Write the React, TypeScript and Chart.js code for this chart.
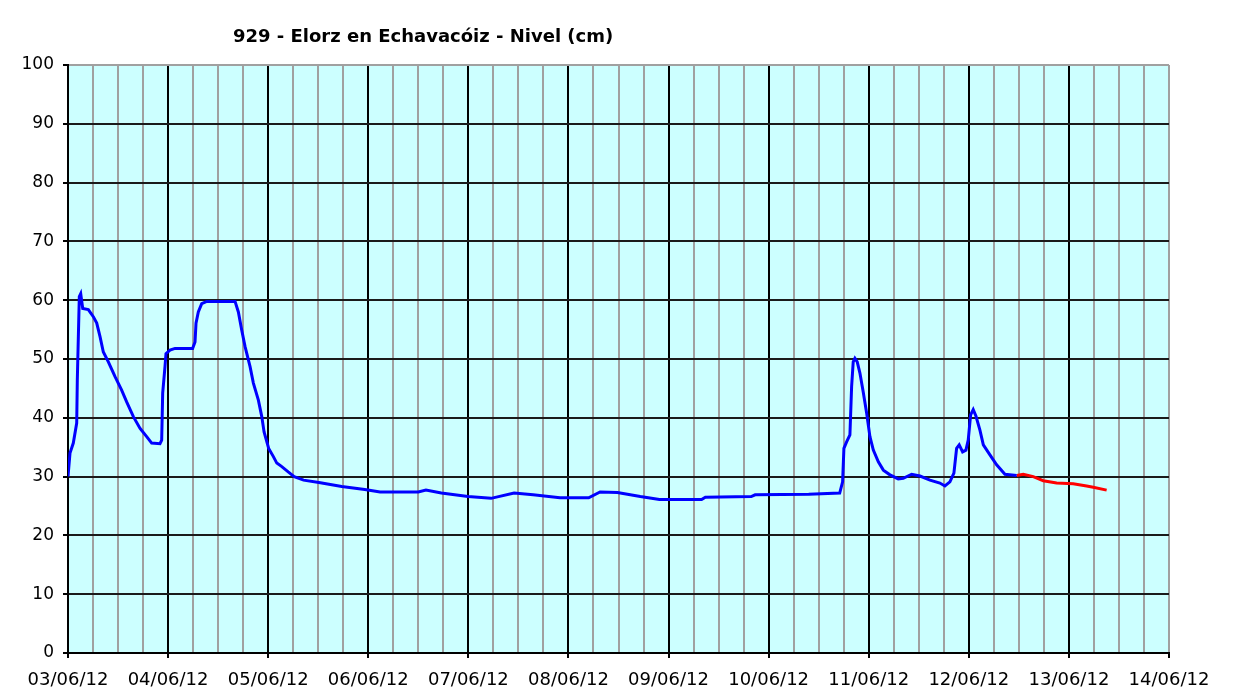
import React, { useEffect, useRef } from 'react';
import { Chart, registerables } from 'chart.js';

Chart.register(...registerables);

const chartTitle = '929 - Elorz en Echavacóiz - Nivel (cm)';
const dayLabels = ['03/06/12', '04/06/12', '05/06/12', '06/06/12', '07/06/12', '08/06/12', '09/06/12', '10/06/12', '11/06/12', '12/06/12', '13/06/12', '14/06/12'];
const yMin = 0;
const yMax = 100;
const yStep = 10;

// Observed level: days since 03/06/12 00:00, level in cm
const observedDays = [
  0.0, 0.02, 0.053, 0.087, 0.093, 0.113, 0.127, 0.147, 0.203, 0.253, 0.287, 0.32, 0.353, 0.403, 0.47, 0.536, 0.586, 0.653, 0.72, 0.786, 0.836, 0.919, 0.936, 0.946, 0.969, 0.979,
  1.019, 1.069, 1.245, 1.269, 1.279, 1.302, 1.336, 1.386, 1.669, 1.702, 1.736, 1.769, 1.819, 1.852, 1.902, 1.936, 1.959,
  2.005, 2.052, 2.086, 2.136, 2.2, 2.26, 2.354, 2.507, 2.735, 2.965,
  3.118, 3.5, 3.576, 3.73, 3.997, 4.227, 4.457, 4.647, 4.915, 5.202, 5.316, 5.489, 5.718, 5.909, 6.33, 6.368, 6.826, 6.865, 7.4, 7.71,
  7.739, 7.752, 7.779, 7.812, 7.829, 7.845, 7.862, 7.885, 7.912, 7.945, 7.979, 8.012, 8.046, 8.096, 8.146, 8.212, 8.295, 8.345, 8.429, 8.512, 8.612, 8.711, 8.761, 8.811, 8.851, 8.878, 8.904, 8.938, 8.971, 8.994,
  9.018, 9.044, 9.071, 9.111, 9.145, 9.211, 9.278, 9.361, 9.478,
];
const observedLevel = [
  30.0, 34.0, 35.7, 39.1, 46.4, 60.6, 61.1, 58.6, 58.4, 57.2, 56.1, 53.8, 51.2, 49.5, 47.0, 44.7, 42.7, 40.2, 38.2, 36.8, 35.7, 35.6, 36.2, 44.2, 48.7, 50.9,
  51.5, 51.8, 51.8, 52.9, 56.1, 58.0, 59.4, 59.8, 59.8, 58.0, 54.9, 52.1, 48.7, 45.9, 43.0, 40.2, 37.6,
  34.8, 33.4, 32.3, 31.7, 30.8, 30.0, 29.4, 29.0, 28.3, 27.8,
  27.4, 27.4, 27.7, 27.2, 26.6, 26.3, 27.2, 26.9, 26.4, 26.4, 27.4, 27.3, 26.6, 26.1, 26.1, 26.5, 26.6, 26.9, 27.0, 27.2,
  29.1, 34.8, 35.9, 37.1, 45.3, 49.5, 50.1, 49.5, 47.6, 44.4, 40.8, 36.8, 34.5, 32.5, 31.1, 30.3, 29.6, 29.7, 30.4, 30.1, 29.4, 28.9, 28.4, 29.1, 30.6, 34.8, 35.4, 34.2, 34.5, 36.2,
  40.5, 41.4, 40.3, 37.9, 35.4, 33.7, 32.0, 30.4, 30.2,
];

// Forecast level
const forecastDays = [9.478, 9.544, 9.644, 9.744, 9.877, 10.043, 10.177, 10.243, 10.377];
const forecastLevel = [30.2, 30.4, 30.0, 29.3, 28.9, 28.8, 28.4, 28.2, 27.7];

const W = 1251;
const H = 688;

const isWholeDay = (v: number) => Math.abs(v - Math.round(v)) < 1e-6;

export default function App() {
  const ref = useRef<HTMLCanvasElement | null>(null);

  useEffect(() => {
    const canvas = ref.current;
    if (!canvas) return;

    const bgPlugin = {
      id: 'plotBg',
      beforeDraw(chart: any) {
        const { ctx, chartArea } = chart;
        ctx.save();
        ctx.fillStyle = '#CCFFFF';
        ctx.fillRect(chartArea.left, chartArea.top, chartArea.right - chartArea.left, chartArea.bottom - chartArea.top);
        ctx.restore();
      },
    };

    const titlePlugin = {
      id: 'offsetTitle',
      afterDraw(chart: any) {
        const { ctx, chartArea } = chart;
        ctx.save();
        ctx.font = 'bold 18px "DejaVu Sans"';
        ctx.fillStyle = '#000000';
        ctx.textAlign = 'center';
        ctx.textBaseline = 'alphabetic';
        const cx = chartArea.left + (chartArea.right - chartArea.left) * 0.3225;
        ctx.fillText(chartTitle, cx, chartArea.top - 23);
        ctx.restore();
      },
    };

    const chart = new Chart(canvas, {
      type: 'line',
      data: {
        datasets: [
          {
            label: 'Nivel',
            data: observedDays.map((d, i) => ({ x: d, y: observedLevel[i] })),
            borderColor: '#0000FF',
            borderWidth: 3,
            pointRadius: 0,
            tension: 0,
            fill: false,
          },
          {
            label: 'Previsión',
            data: forecastDays.map((d, i) => ({ x: d, y: forecastLevel[i] })),
            borderColor: '#FF0000',
            borderWidth: 3,
            pointRadius: 0,
            tension: 0,
            fill: false,
          },
        ],
      },
      options: {
        animation: false,
        responsive: false,
        devicePixelRatio: 1,
        layout: { padding: { left: 0, right: 82, top: 65, bottom: 0 } },
        plugins: {
          legend: { display: false },
          title: { display: false },
          tooltip: { enabled: false },
        },
        scales: {
          x: {
            type: 'linear',
            min: 0,
            max: dayLabels.length - 1,
            afterFit(scale: any) {
              scale.height = 35;
            },
            border: { display: true, color: '#000000', width: 2 },
            grid: {
              lineWidth: 2,
              tickLength: 5,
              color: (c: any) => {
                const v = c.tick ? c.tick.value : 0;
                if (v === dayLabels.length - 1) return '#A0A0A0';
                return isWholeDay(v) ? '#000000' : '#A0A0A0';
              },
              tickColor: (c: any) => {
                const v = c.tick ? c.tick.value : 0;
                return isWholeDay(v) ? '#000000' : 'rgba(0,0,0,0)';
              },
            },
            ticks: {
              stepSize: 0.25,
              autoSkip: false,
              maxRotation: 0,
              minRotation: 0,
              padding: 12,
              color: '#000000',
              font: { family: '"DejaVu Sans"', size: 18 },
              callback: (v: any) => {
                const n = Number(v);
                return isWholeDay(n) ? dayLabels[Math.round(n)] : '';
              },
            },
          },
          y: {
            type: 'linear',
            min: yMin,
            max: yMax,
            afterFit(scale: any) {
              scale.width = 68;
            },
            border: { display: true, color: '#000000', width: 2 },
            grid: {
              lineWidth: 2,
              tickLength: 5,
              color: (c: any) => (c.tick && c.tick.value === yMax ? '#A0A0A0' : '#1A1A1A'),
              tickColor: '#000000',
            },
            ticks: {
              stepSize: yStep,
              padding: 9,
              color: '#000000',
              font: { family: '"DejaVu Sans"', size: 17 },
            },
          },
        },
      },
      plugins: [bgPlugin, titlePlugin],
    });

    return () => {
      chart.destroy();
    };
  }, []);

  return (
    <div style={{ position: 'fixed', left: 0, top: 0, width: W, height: H, background: '#FFFFFF' }}>
      <canvas ref={ref} width={W} height={H} style={{ display: 'block', width: W, height: H }} />
    </div>
  );
}
